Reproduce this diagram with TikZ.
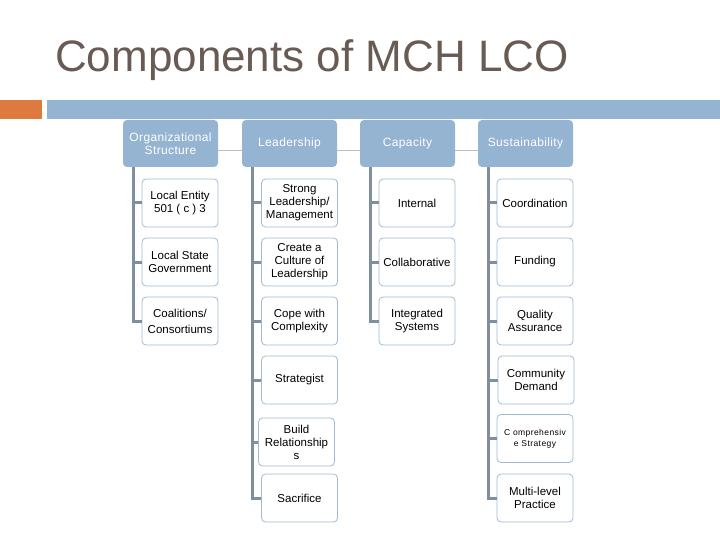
\documentclass[tikz,border=0pt]{standalone}
\usepackage{fontspec}
\setmainfont{Liberation Sans}
\newfontfamily\spaced[LetterSpace=3]{Liberation Sans}
\newfontfamily\spacedsmall[LetterSpace=5]{Liberation Sans}
\definecolor{hdr}{RGB}{148,180,210}
\definecolor{bord}{RGB}{160,186,212}
\definecolor{orng}{RGB}{222,122,62}
\definecolor{spinec}{RGB}{128,143,160}
\definecolor{titlec}{RGB}{104,91,84}
\definecolor{linkc}{RGB}{190,190,190}
\tikzset{
  head/.style={rounded corners=4pt, fill=hdr, text=white, align=center,
    minimum width=95pt, minimum height=47pt, inner sep=0pt,
    font=\spaced\fontsize{12}{13}\selectfont},
  child/.style={draw=bord, line width=0.8pt, fill=white, rounded corners=4pt, align=center,
    minimum width=76pt, minimum height=48pt, inner sep=0pt,
    font=\fontsize{11.5}{13}\selectfont},
  spine/.style={draw=spinec, line width=3pt},
  link/.style={draw=linkc, line width=0.7pt}
}
\begin{document}
\begin{tikzpicture}[x=1pt,y=-1pt]
\useasboundingbox (0,0) rectangle (720,540);
\node[anchor=base west, text=titlec, font=\fontsize{44}{48}\selectfont, inner sep=0pt] (title) at (55,72) {Components of MCH LCO};
\fill[orng] (0,100) rectangle (42,119);
\fill[hdr] (47,100) rectangle (720,119);
% headers
\node[head] (h1) at (170.5,143.5) {Organizational\\Structure};
\node[head] (h2) at (289.5,143.5) {Leadership};
\node[head] (h3) at (407.5,143.5) {Capacity};
\node[head] (h4) at (525.5,143.5) {Sustainability};
\draw[link] ([yshift=-6.5pt]h1.east) -- ([yshift=-6.5pt]h2.west);
\draw[link] ([yshift=-6.5pt]h2.east) -- ([yshift=-6.5pt]h3.west);
\draw[link] ([yshift=-6.5pt]h3.east) -- ([yshift=-6.5pt]h4.west);
% children col 1
\node[child] (a1) at (180,203) {Local Entity\\501 ( c ) 3};
\node[child] (a2) at (180,262) {Local State\\Government};
\node[child] (a3) at (180,321) {Coalitions/\\[3pt]Consortiums};
% col 2
\node[child] (b1) at (299.5,203) {Strong\\Leadership/\\Management};
\node[child] (b2) at (299.5,262) {Create a\\Culture of\\Leadership};
\node[child] (b3) at (299.5,321) {Cope with\\Complexity};
\node[child] (b4) at (299.5,380) {Strategist};
\node[child] (b5) at (296.5,442) {Build\\Relationship\\s};
\node[child] (b6) at (299.5,498) {Sacrifice};
% col 3
\node[child] (c1) at (417,203) {Internal};
\node[child] (c2) at (417,262) {Collaborative};
\node[child] (c3) at (417,321) {Integrated\\Systems};
% col 4
\node[child] (d1) at (535,203) {Coordination};
\node[child] (d2) at (535,262) {Funding};
\node[child] (d3) at (535,321) {Quality\\Assurance};
\node[child] (d4) at (536,380) {Community\\Demand};
\node[child, font=\spacedsmall\fontsize{8.5}{11}\selectfont] (d5) at (535,438.5) {C omprehensiv\\e Strategy};
\node[child] (d6) at (535,498) {Multi-level\\Practice};
% spines
\coordinate (s1) at (133,167);
\coordinate (s2) at (252,167);
\coordinate (s3) at (370,167);
\coordinate (s4) at (488,167);
\draw[spine] (s1) |- (a3.west);
\draw[spine] (a1.west -| s1) -- (a1.west);
\draw[spine] (a2.west -| s1) -- (a2.west);
\draw[spine] (s2) |- (b6.west);
\foreach \n in {b1,b2,b3,b4,b5} \draw[spine] (\n.west -| s2) -- (\n.west);
\draw[spine] (s3) |- (c3.west);
\foreach \n in {c1,c2} \draw[spine] (\n.west -| s3) -- (\n.west);
\draw[spine] (s4) |- (d6.west);
\foreach \n in {d1,d2,d3,d4,d5} \draw[spine] (\n.west -| s4) -- (\n.west);
\end{tikzpicture}
\end{document}
